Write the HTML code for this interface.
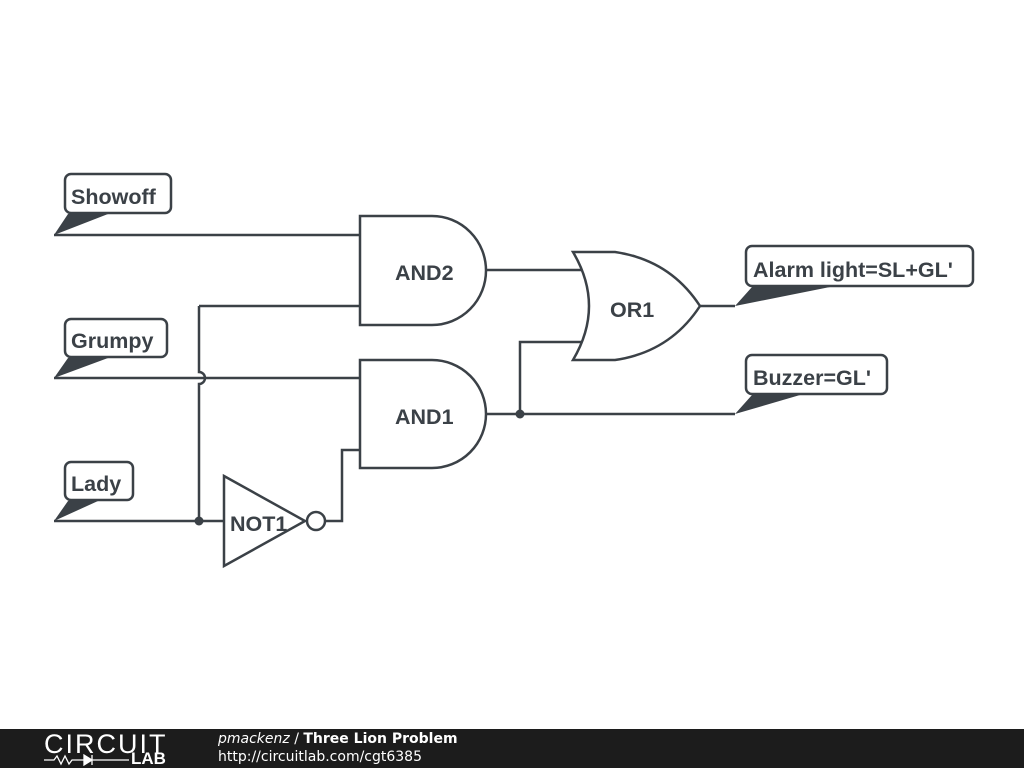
<!DOCTYPE html>
<html><head><style>
body{margin:0;width:1024px;height:768px;background:#fff;overflow:hidden;position:relative;font-family:"Liberation Sans",sans-serif}
#f{position:absolute;left:0;top:729px;width:1024px;height:39px;background:#1c1c1c;color:#fff}
</style></head><body>
<svg width="1024" height="729" style="position:absolute;left:0;top:0" font-family="Liberation Sans, sans-serif" font-weight="bold" fill="none" stroke="#3b4147" stroke-width="2.5">
<g>
<path d="M54 235H360"/>
<path d="M54 378H360"/>
<path d="M199 306V372 A6 6 0 0 1 199 384 V521"/>
<path d="M199 306H360"/>
<path d="M54 521H224"/>
<path d="M325 521H342V450H360"/>
<path d="M486 270H582"/>
<path d="M486 414H735"/>
<path d="M520 414V342H582"/>
<path d="M700 306H735"/>
<path d="M360 216H432A54 54.5 0 0 1 432 325H360Z"/>
<path d="M360 360H432A54 54 0 0 1 432 468H360Z"/>
<path d="M573 252H615Q670 260 700 306Q670 352 615 360H573Q605 306 573 252Z"/>
<path d="M224 476L305 521L224 566Z"/>
<circle cx="316" cy="521" r="9"/>
<rect x="65" y="174" width="106" height="39" rx="6"/>
<rect x="65" y="319" width="102" height="38" rx="6"/>
<rect x="65" y="462" width="68" height="38" rx="6"/>
<rect x="746" y="246" width="227" height="40" rx="6"/>
<rect x="746" y="355" width="141" height="39" rx="6"/>
</g>
<g fill="#3b4147" stroke="none">
<path d="M68 214L54 235L108 214Z"/>
<path d="M68 358L54 378L108 358Z"/>
<path d="M68 501L54 521L98 501Z"/>
<path d="M752 287L735 306L830 287Z"/>
<path d="M752 395L735 414L800 395Z"/>
<circle cx="199" cy="521" r="4.5"/>
<circle cx="520" cy="414" r="4.5"/>
</g>
<g fill="#3b4147" stroke="none" font-size="21.5">
<text x="71" y="204">Showoff</text>
<text x="71" y="348">Grumpy</text>
<text x="71" y="491">Lady</text>
<text x="753" y="277">Alarm light=SL+GL'</text>
<text x="753" y="385">Buzzer=GL'</text>
<text x="395" y="280">AND2</text>
<text x="395" y="424">AND1</text>
<text x="610" y="317">OR1</text>
<text x="230" y="531">NOT1</text>
</g>
</svg>
<div id="f">
<div style="position:absolute;left:44px;top:0px;font-size:27px;letter-spacing:2px;color:#fff">CIRCUIT</div>
<svg style="position:absolute;left:44px;top:25px" width="90" height="12" stroke="#fff" fill="#fff" stroke-width="1.3"><path d="M0 6H10L13 2L17 10L21 2L25 10L28 6H40" fill="none"/><path d="M40 1L48 6L40 11Z"/><path d="M48 1V11M48 6H85" fill="none"/></svg>
<div style="position:absolute;left:131px;top:20px;font-size:17px;font-weight:bold">LAB</div>
<div style="position:absolute;left:218px;top:2px;font-size:14px;font-family:'DejaVu Sans',sans-serif"><i>pmackenz</i> / <b>Three Lion Problem</b></div>
<div style="position:absolute;left:218px;top:20px;font-size:14px;font-family:'DejaVu Sans',sans-serif">http://circuitlab.com/cgt6385</div>
</div>
</body></html>
